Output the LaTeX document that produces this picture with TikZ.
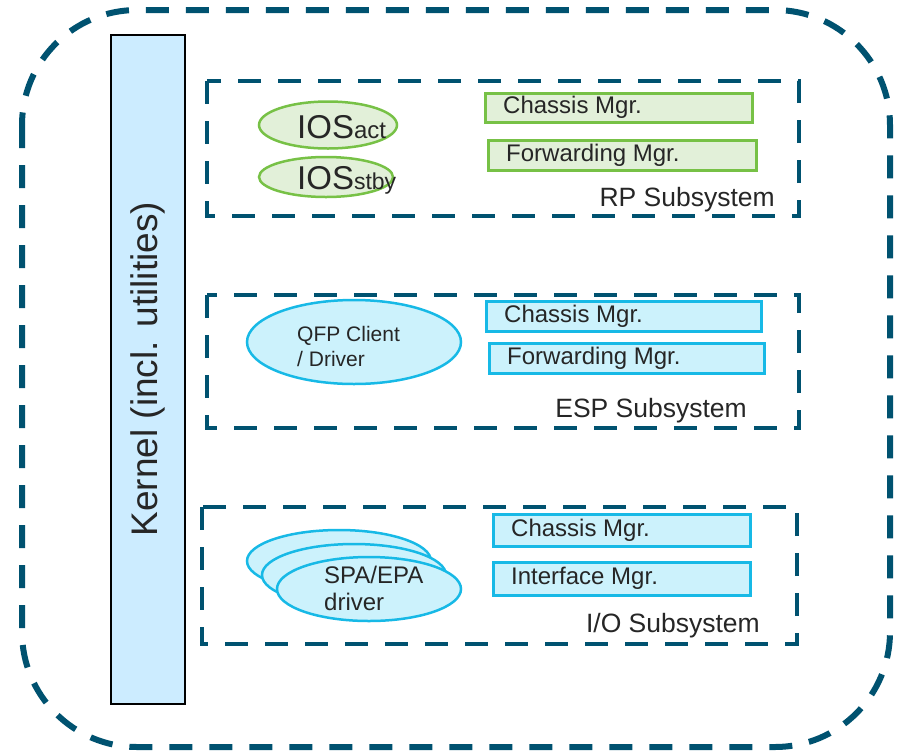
\documentclass[tikz,border=0pt]{standalone}
\usepackage{fontspec}
\setmainfont{Liberation Sans}
\usetikzlibrary{shapes.geometric}
\definecolor{navy}{RGB}{0,82,112}
\definecolor{gfill}{RGB}{226,240,217}
\definecolor{gline}{RGB}{119,193,70}
\definecolor{bfill}{RGB}{204,242,252}
\definecolor{bline}{RGB}{23,185,230}
\definecolor{kfill}{RGB}{204,236,255}
\definecolor{txt}{RGB}{38,38,38}
\tikzset{
  outerbox/.style={draw=navy, line width=6pt, dash pattern=on 23pt off 17pt, rounded corners=115pt},
  subbox/.style={draw=navy, line width=4pt, dash pattern=on 23pt off 17pt},
  gbox/.style={draw=gline, fill=gfill, line width=2.5pt, rectangle, anchor=north west, inner sep=0pt},
  bbox/.style={draw=bline, fill=bfill, line width=2.5pt, rectangle, anchor=north west, inner sep=0pt},
  gell/.style={draw=gline, fill=gfill, line width=2.5pt, ellipse, inner sep=0pt},
  bell/.style={draw=bline, fill=bfill, line width=2.5pt, ellipse, inner sep=0pt},
  lbl/.style={text=txt, font=\fontsize{24}{28}\selectfont, anchor=west, inner sep=0pt},
  sublbl/.style={text=txt, font=\fontsize{26.5}{30}\selectfont, anchor=east, inner sep=0pt},
}
\begin{document}
\begin{tikzpicture}[x=1pt,y=-1pt]
\useasboundingbox (0,0) rectangle (899,753);
% outer
\draw[outerbox] (22,10) rectangle (890,747);
% kernel
\node[draw=black, fill=kfill, line width=1.5pt, anchor=north west, minimum width=74pt, minimum height=669pt, inner sep=0pt] (kernel) at (110,34) {};
\node[rotate=90, text=txt, font=\fontsize{37}{42}\selectfont] (ktext) at (kernel.center) {Kernel (incl. utilities)};
% RP subsystem
\draw[subbox] (207,81) rectangle (799,216);
\node[gell, minimum width=138pt, minimum height=47pt] (iosact) at (328,125) {};
\node[text=txt, anchor=west, inner sep=0pt] (iosacttxt) at (297,127) {\fontsize{33}{36}\selectfont IOS\fontsize{24}{26}\selectfont act};
\node[gell, minimum width=134pt, minimum height=40pt] (iosstby) at (326,177) {};
\node[text=txt, anchor=west, inner sep=0pt] (iosstbytxt) at (297,180) {\fontsize{33}{36}\selectfont IOS\fontsize{23}{26}\selectfont stby};
\node[gbox, minimum width=267pt, minimum height=29pt] (rpcm) at (484,92) {};
\node[lbl] at ([xshift=19pt]rpcm.west) {Chassis Mgr.};
\node[gbox, minimum width=268pt, minimum height=30pt] (rpfm) at (487,139) {};
\node[lbl] at ([xshift=19pt]rpfm.west) {Forwarding Mgr.};
\node[sublbl] (rplbl) at (775,200) {RP Subsystem};
% ESP subsystem
\draw[subbox] (207,295) rectangle (799,428);
\node[bell, minimum width=214pt, minimum height=84pt] (qfp) at (354,342) {};
\node[text=txt, align=left, anchor=west, inner sep=0pt, font=\fontsize{21}{25}\selectfont] at (297,346) {QFP Client\\/ Driver};
\node[bbox, minimum width=275pt, minimum height=30pt] (espcm) at (485,300) {};
\node[lbl] at ([xshift=19pt]espcm.west) {Chassis Mgr.};
\node[bbox, minimum width=275pt, minimum height=30pt] (espfm) at (488,342) {};
\node[lbl] at ([xshift=19pt]espfm.west) {Forwarding Mgr.};
\node[sublbl] (esplbl) at (747,411) {ESP Subsystem};
% I/O subsystem
\draw[subbox] (202,507) rectangle (797,644);
\node[bell, minimum width=184pt, minimum height=62pt] (spa1) at (339,561) {};
\node[bell, minimum width=184pt, minimum height=62pt] (spa2) at (354,575) {};
\node[bell, minimum width=184pt, minimum height=64pt] (spa3) at (369,589) {};
\node[text=txt, align=left, anchor=west, inner sep=0pt, font=\fontsize{24}{27}\selectfont] at (324,588) {SPA/EPA\\driver};
\node[bbox, minimum width=257pt, minimum height=32pt] (iocm) at (492,513) {};
\node[lbl] at ([xshift=19pt]iocm.west) {Chassis Mgr.};
\node[bbox, minimum width=257pt, minimum height=33pt] (ioim) at (492,561) {};
\node[lbl] at ([xshift=19pt]ioim.west) {Interface Mgr.};
\node[sublbl] (iolbl) at (760,626) {I/O Subsystem};
\end{tikzpicture}
\end{document}
